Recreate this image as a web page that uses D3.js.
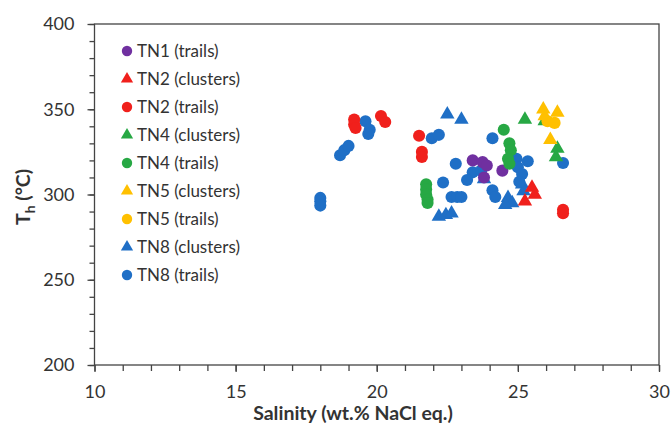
<!DOCTYPE html>
<html><head><meta charset="utf-8">
<script src="https://cdn.jsdelivr.net/npm/d3@7"></script>
<style>body{margin:0;background:#fff}svg{display:block}text{font-family:Lato,"Open Sans",sans-serif}</style>
</head><body>
<svg id="c" width="672" height="429"></svg>
<script>
const xTicks = [10, 15, 20, 25, 30];
const yTicks = [200, 250, 300, 350, 400];
const seriesNames = ["TN1 (trails)", "TN2 (clusters)", "TN2 (trails)", "TN4 (clusters)", "TN4 (trails)", "TN5 (clusters)", "TN5 (trails)", "TN8 (clusters)", "TN8 (trails)"];
const seriesShapes = ["circle", "triangle", "circle", "triangle", "circle", "triangle", "circle", "triangle", "circle"];
const seriesColors = ["#7030a0", "#f0201c", "#f0201c", "#27a844", "#27a844", "#ffc000", "#ffc000", "#1f6fc6", "#1f6fc6"];

const tn1Trails = [[23.4,320],[23.75,319],[23.9,317],[24.45,314],[23.8,310]];
const tn2Clusters = [[25.5,304],[25.6,300],[25.25,296]];
const tn2Trails = [[19.2,344],[19.2,341],[19.25,339],[20.15,346],[20.3,342.5],[21.5,334.5],[21.6,325],[21.6,322],[26.6,291],[26.6,289]];
const tn4Clusters = [[25.25,344],[25.95,343],[26.4,327],[26.35,322]];
const tn4Trails = [[21.75,306],[21.75,303],[21.75,300],[21.8,297],[21.8,295],[24.5,338],[24.7,330],[24.75,326],[24.65,321],[24.7,318]];
const tn5Clusters = [[25.9,350],[26.4,348],[26.15,332],[25.95,346]];
const tn5Trails = [[26.05,343],[26.3,342]];
const tn8Clusters = [[22.5,347],[23.0,344],[22.2,287],[22.45,288],[22.65,289],[23.8,309],[24.65,298],[24.8,295],[24.55,294],[25.15,306],[25.2,302]];
const tn8Trails = [[18,298],[18,296],[18,293.5],[18.7,323],[18.85,326],[19,328.5],[19.6,343],[19.75,338],[19.7,335.5],[21.95,333],[22.2,335],[22.8,318],[22.35,307],[22.65,298.5],[22.85,298.5],[23.0,298.5],[23.4,313],[23.2,308.5],[24.1,333],[24.1,302.5],[24.2,298.5],[24.95,321],[25.35,319.5],[25.0,316],[25.15,312],[25.05,307.5],[26.6,318.5],[23.7,314]];
const seriesData = [tn1Trails, tn2Clusters, tn2Trails, tn4Clusters, tn4Trails, tn5Clusters, tn5Trails, tn8Clusters, tn8Trails];

const svg = d3.select("#c");
const L = 94.5, R = 659, T = 24, B = 365;
const x = d3.scaleLinear().domain([10, 30]).range([L, R]);
const y = d3.scaleLinear().domain([200, 400]).range([B, T]);

svg.append("rect").attr("width", 672).attr("height", 429).attr("fill", "#fff");

svg.append("rect").attr("x", L).attr("y", T).attr("width", R - L).attr("height", B - T)
  .attr("fill", "none").attr("stroke", "#444").attr("stroke-width", 1.3);

const xa = svg.append("g").attr("transform", `translate(0,${B})`)
  .call(d3.axisBottom(x).tickValues(d3.range(10, 31, 1)).tickSize(6).tickFormat(""));
xa.select(".domain").remove();
xa.selectAll("line").attr("stroke", "#444").attr("stroke-width", 1.3);
const xl = svg.append("g").attr("transform", `translate(0,${B})`)
  .call(d3.axisBottom(x).tickValues(xTicks).tickSize(7).tickPadding(13).tickFormat(d3.format("d")));
xl.select(".domain").remove();
xl.selectAll("line").attr("stroke", "#444").attr("stroke-width", 1.3);
xl.selectAll("text").attr("font-size", 18).attr("fill", "#333");

const ya = svg.append("g").attr("transform", `translate(${L},0)`)
  .call(d3.axisLeft(y).tickValues(d3.range(200, 401, 10)).tickSize(5).tickFormat(""));
ya.select(".domain").remove();
ya.selectAll("line").attr("stroke", "#444").attr("stroke-width", 1.3);
const yl = svg.append("g").attr("transform", `translate(${L},0)`)
  .call(d3.axisLeft(y).tickValues(yTicks).tickSize(7).tickPadding(13).tickFormat(d3.format("d")));
yl.select(".domain").remove();
yl.selectAll("line").attr("stroke", "#444").attr("stroke-width", 1.3);
yl.selectAll("text").attr("font-size", 18).attr("fill", "#333");

svg.append("text").attr("x", 353).attr("y", 420).attr("text-anchor", "middle")
  .attr("font-size", 19.5).attr("font-weight", "bold").attr("fill", "#333").text("Salinity (wt.% NaCl eq.)");
const yt = svg.append("text").attr("transform", "translate(30,197) rotate(-90)").attr("text-anchor", "middle")
  .attr("font-size", 19.5).attr("font-weight", "bold").attr("fill", "#333");
yt.append("tspan").text("T");
yt.append("tspan").attr("font-size", 14).attr("dy", 5).text("h");
yt.append("tspan").attr("dy", -5).text(" (°C)");

function sym(shape, size) {
  return d3.symbol().type(shape === "circle" ? d3.symbolCircle : d3.symbolTriangle).size(size)();
}

const order = [7, 8, 0, 1, 2, 3, 4, 5, 6];
order.forEach(i => {
  svg.append("g").selectAll("path").data(seriesData[i]).join("path")
    .attr("d", sym(seriesShapes[i], seriesShapes[i] === "circle" ? 115 : 90))
    .attr("transform", d => `translate(${x(d[0])},${y(d[1])})`)
    .attr("fill", seriesColors[i]);
});

const lg = svg.append("g");
seriesNames.forEach((n, i) => {
  const yy = 51 + i * 28;
  lg.append("path").attr("d", sym(seriesShapes[i], seriesShapes[i] === "circle" ? 85 : 65))
    .attr("transform", `translate(127,${yy})`).attr("fill", seriesColors[i]);
  lg.append("text").attr("x", 137).attr("y", yy + 6).attr("font-size", 17).attr("fill", "#333").text(n);
});
</script>
</body></html>
